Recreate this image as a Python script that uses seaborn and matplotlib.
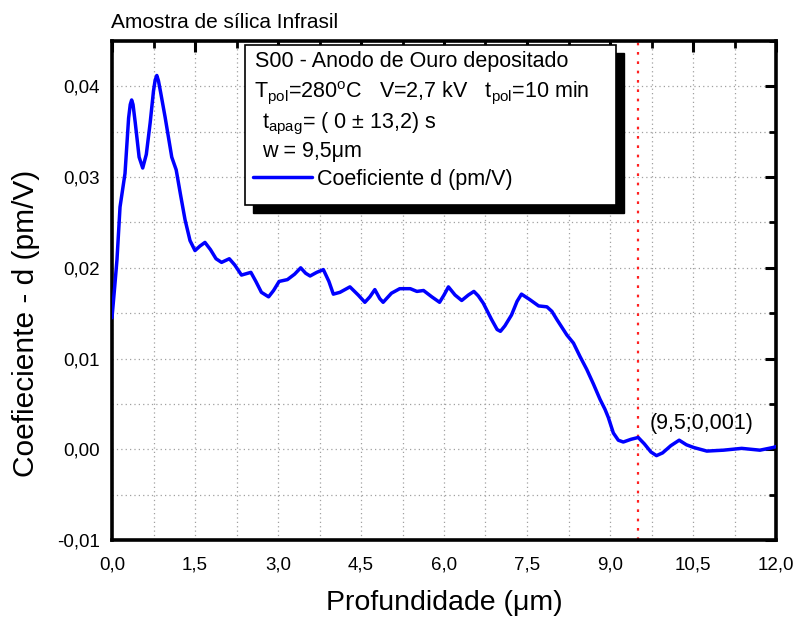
import matplotlib
matplotlib.use("Agg")
import matplotlib.pyplot as plt
import seaborn as sns
import pandas as pd
from matplotlib.patches import Rectangle
from matplotlib.lines import Line2D
from matplotlib.ticker import MultipleLocator, FuncFormatter

# ---------------- data ----------------
depth = [0.00, 0.05, 0.09, 0.145, 0.235, 0.30, 0.33, 0.355, 0.38, 0.42, 0.49, 0.555, 0.62, 0.69,
         0.75, 0.78, 0.81, 0.84, 0.88, 0.96, 1.08, 1.16, 1.24, 1.32, 1.41, 1.50, 1.59, 1.68,
         1.78, 1.88, 1.98, 2.12, 2.22, 2.34, 2.51, 2.60, 2.70, 2.83, 2.92, 3.02,
         3.17, 3.30, 3.41, 3.50, 3.58, 3.70, 3.82, 3.92, 4.00, 4.12, 4.30, 4.45,
         4.57, 4.66, 4.75, 4.84, 4.90, 5.05, 5.20, 5.39, 5.51, 5.63, 5.78, 5.92,
         6.00, 6.08, 6.20, 6.32, 6.44, 6.54, 6.62, 6.71, 6.86, 6.96, 7.02, 7.10,
         7.22, 7.32, 7.40, 7.55, 7.71, 7.86, 7.95, 8.04, 8.22, 8.34, 8.46, 8.58,
         8.70, 8.82, 8.91, 8.97, 9.06, 9.15, 9.24, 9.38, 9.51, 9.62, 9.74, 9.84,
         9.95, 10.10, 10.25, 10.38, 10.51, 10.75, 11.05, 11.38, 11.71, 11.95, 12.00]
coef = [0.0145, 0.0180, 0.0209, 0.0267, 0.0304, 0.0365, 0.0380, 0.0385, 0.0380, 0.0360, 0.0322, 0.0310, 0.0325, 0.0360,
        0.0395, 0.0407, 0.0412, 0.0406, 0.0393, 0.0366, 0.0322, 0.0308, 0.0280, 0.0253, 0.0230, 0.0219, 0.0224, 0.0228,
        0.0220, 0.0210, 0.0206, 0.0210, 0.0203, 0.0192, 0.0195, 0.0185, 0.0173, 0.0168, 0.0175, 0.0185,
        0.0187, 0.0193, 0.0200, 0.0194, 0.0191, 0.0195, 0.0198, 0.0185, 0.0171, 0.0173, 0.0179, 0.0170,
        0.0162, 0.0168, 0.0176, 0.0166, 0.0162, 0.0172, 0.0177, 0.0177, 0.0174, 0.0175, 0.0168, 0.0162,
        0.0170, 0.0179, 0.0170, 0.0164, 0.0170, 0.0174, 0.0169, 0.0161, 0.0143, 0.0132, 0.0130, 0.0136,
        0.0148, 0.0163, 0.0171, 0.0165, 0.0158, 0.0157, 0.0152, 0.0143, 0.0126, 0.0117, 0.0102, 0.0088,
        0.0072, 0.0055, 0.0044, 0.0035, 0.0018, 0.0010, 0.0008, 0.0011, 0.0013, 0.0006, -0.0003, -0.0007,
        -0.0004, 0.0004, 0.0010, 0.0005, 0.0002, -0.0002, -0.0001, 0.0001, -0.0001, 0.0002, 0.0003]

x_ticks = [0.0, 1.5, 3.0, 4.5, 6.0, 7.5, 9.0, 10.5, 12.0]
y_ticks = [-0.01, 0.00, 0.01, 0.02, 0.03, 0.04]
w_mark = 9.5
mark_label = "(9,5;0,001)"
series_label = "Coeficiente d (pm/V)"
info_lines = [
    "S00 - Anodo de Ouro depositado",
    r"T$_{\rm pol}$=280$^{\rm o}$C   V=2,7 kV   t$_{\rm pol}$=10 min",
    r"t$_{\rm apag}$= ( 0 ± 13,2) s",
    "w = 9,5μm",
]

# ---------------- style ----------------
sns.set_style("white")
plt.rcParams["font.family"] = ["Liberation Sans", "DejaVu Sans"]
plt.rcParams["mathtext.fontset"] = "custom"
plt.rcParams["mathtext.rm"] = "Liberation Sans"
plt.rcParams["mathtext.it"] = "Liberation Sans:italic"
plt.rcParams["mathtext.bf"] = "Liberation Sans:bold"
for k in ["text.color", "axes.labelcolor", "xtick.color", "ytick.color"]:
    plt.rcParams[k] = "black"

W, H = 798, 619
fig = plt.figure(figsize=(W / 100, H / 100), dpi=100)
fig.patch.set_facecolor("white")
L, R, T, B = 112, 776, 41, 540
ax = fig.add_axes([L / W, 1 - B / H, (R - L) / W, (B - T) / H])


def axf(px, py):
    return ((px - L) / (R - L), (B - py) / (B - T))


df = pd.DataFrame({"depth": depth, "coef": coef})
sns.lineplot(data=df, x="depth", y="coef", sort=False, estimator=None,
             color="#0000FF", linewidth=2.5, ax=ax, zorder=3)
ax.lines[-1].set_solid_joinstyle("round")
ax.lines[-1].set_solid_capstyle("round")

ax.axvline(w_mark, color="#FF2020", linestyle=(0, (1.2, 3.0)), linewidth=1.6, zorder=2)
ax.text(9.71, 0.0022, mark_label, fontsize=15.5, ha="left", va="baseline", zorder=4)

ax.set_xlim(0, 12)
ax.set_ylim(-0.01, 0.045)
ax.xaxis.set_major_locator(plt.FixedLocator(x_ticks))
ax.xaxis.set_minor_locator(MultipleLocator(0.75))
ax.yaxis.set_major_locator(plt.FixedLocator(y_ticks))
ax.yaxis.set_minor_locator(MultipleLocator(0.005))
ax.xaxis.set_major_formatter(FuncFormatter(lambda v, p: f"{v:.1f}".replace(".", ",")))
ax.yaxis.set_major_formatter(FuncFormatter(lambda v, p: f"{v:.2f}".replace(".", ",")))

ax.grid(which="both", linestyle=(0, (1, 2.5)), color="#a0a0a0", linewidth=0.9, zorder=0)
ax.set_axisbelow(True)
for s in ax.spines.values():
    s.set_visible(True)
    s.set_color("black")
    s.set_linewidth(2.6)
ax.tick_params(which="major", direction="in", length=8, width=2.2, top=True, right=True,
               labelsize=13.5, color="black", labelcolor="black")
ax.tick_params(axis="x", which="major", pad=12)
ax.tick_params(axis="y", which="major", pad=9)
ax.tick_params(which="minor", direction="in", length=5, width=2.0, top=True, right=True,
               color="black")

ax.set_xlabel("Profundidade (μm)", fontsize=20.5, labelpad=12, color="black")
ax.set_ylabel("Coefieciente - d (pm/V)", fontsize=21.5, color="black")
ax.yaxis.set_label_coords((40 - L) / (R - L), (B - 323) / (B - T))

fig.text(111 / W, 1 - 27.5 / H, "Amostra de sílica Infrasil", fontsize=15,
         ha="left", va="baseline", color="black")

# ---------------- info box ----------------
bx0, by0 = axf(245, 205)
bx1, by1 = axf(616, 45)
sx0, sy0 = axf(253, 213)
ax.add_patch(Rectangle((sx0, sy0), bx1 - bx0, by1 - by0, transform=ax.transAxes,
                       facecolor="black", edgecolor="black", zorder=5, clip_on=False))
ax.add_patch(Rectangle((bx0, by0), bx1 - bx0, by1 - by0, transform=ax.transAxes,
                       facecolor="white", edgecolor="black", linewidth=1.2, zorder=6,
                       clip_on=False))
text_pos = [(255, 67.5), (254, 97.5), (262, 128.5), (262, 157.5)]
for (px, py), txt in zip(text_pos, info_lines):
    tx, ty = axf(px, py)
    ax.text(tx, ty, txt, transform=ax.transAxes, fontsize=15.5, ha="left",
            va="baseline", zorder=7, color="black")
lx0, ly = axf(253, 177)
lx1, _ = axf(312, 177)
ax.add_line(Line2D([lx0, lx1], [ly, ly], transform=ax.transAxes, color="#0000FF",
                   linewidth=2.5, zorder=7, clip_on=False))
tx, ty = axf(317, 185)
ax.text(tx, ty, series_label, transform=ax.transAxes, fontsize=15.5, ha="left",
        va="baseline", zorder=7, color="black")

fig.savefig("out.png", dpi=100, facecolor="white")
